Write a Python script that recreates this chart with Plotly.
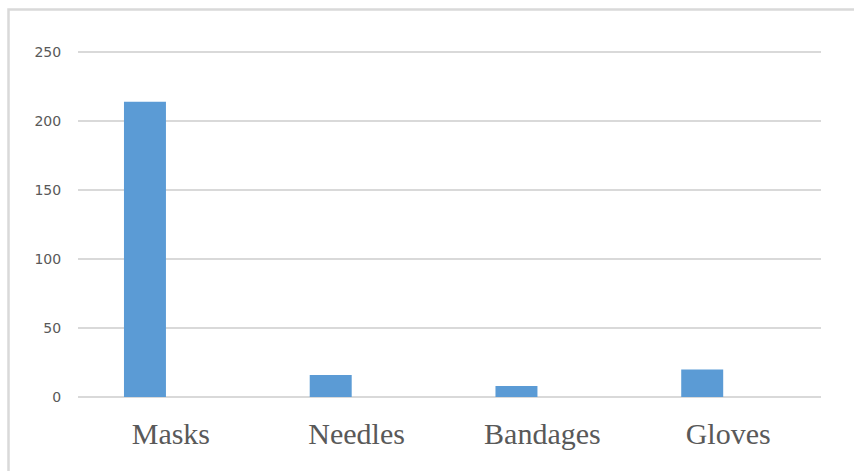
import plotly.graph_objects as go

categories = ["Masks", "Needles", "Bandages", "Gloves"]
values = [214, 16, 8, 20]
y_ticks = [0, 50, 100, 150, 200, 250]

W, H = 854, 471
L, R, T, B = 78, 33, 51, 74
pw, ph = W - L - R, H - T - B

def px_x(p):
    return (p - L) / pw

def px_y(p):
    return (H - B - p) / ph

fig = go.Figure()
fig.add_trace(go.Bar(
    x=categories, y=values,
    width=0.226, offset=-0.2525,
    marker=dict(color="#5b9bd5", line=dict(width=0)),
    showlegend=False,
))

fig.update_layout(
    width=W, height=H,
    margin=dict(l=L, r=R, t=T, b=B, pad=0),
    paper_bgcolor="white", plot_bgcolor="white",
    xaxis=dict(
        showgrid=False, showline=False, zeroline=False,
        ticks="outside", ticklen=10, tickcolor="rgba(0,0,0,0)",
        tickfont=dict(family="Liberation Serif", size=30, color="#595959"),
    ),
    yaxis=dict(
        range=[0, 250.8], tickvals=y_ticks,
        showgrid=True, gridcolor="#d9d9d9", gridwidth=2,
        zeroline=True, zerolinecolor="#d9d9d9", zerolinewidth=2,
        showline=False,
        ticks="outside", ticklen=13, tickcolor="rgba(0,0,0,0)",
        tickfont=dict(family="DejaVu Sans", size=14, color="#595959"),
    ),
    shapes=[dict(
        type="rect", xref="paper", yref="paper",
        x0=px_x(8.5), x1=px_x(880), y0=px_y(490), y1=px_y(9.5),
        line=dict(color="#d9d9d9", width=2.5), fillcolor="rgba(0,0,0,0)",
        layer="below",
    )],
)

fig.write_html("out.html")
